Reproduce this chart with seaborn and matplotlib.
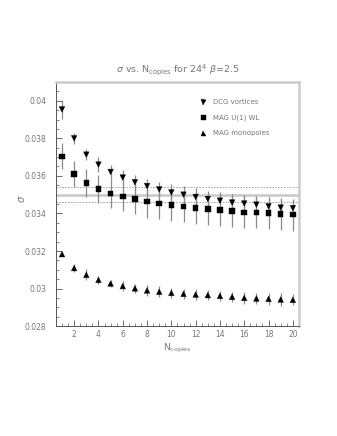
import numpy as np
import pandas as pd
import seaborn as sns
import matplotlib
matplotlib.use("Agg")
import matplotlib.pyplot as plt
from matplotlib.ticker import MultipleLocator, FixedLocator

n_copies = list(range(1, 21))

vortices = [0.03954, 0.03800, 0.03713, 0.03660, 0.03621, 0.03591, 0.03566, 0.03546,
            0.03528, 0.03512, 0.03500, 0.03488, 0.03477, 0.03468, 0.03458, 0.03453,
            0.03447, 0.03438, 0.03431, 0.03428]
vortices_err = [0.00050, 0.00030, 0.00030, 0.00040, 0.00035, 0.00040, 0.00040, 0.00040,
                0.00040, 0.00045, 0.00045, 0.00045, 0.00045, 0.00045, 0.00045, 0.00045,
                0.00045, 0.00045, 0.00045, 0.00045]

u1wl = [0.03704, 0.03609, 0.03561, 0.03530, 0.03506, 0.03490, 0.03476, 0.03463,
        0.03454, 0.03444, 0.03437, 0.03428, 0.03423, 0.03417, 0.03412, 0.03406,
        0.03405, 0.03401, 0.03397, 0.03394]
u1wl_err = [0.00070, 0.00070, 0.00073, 0.00073, 0.00075, 0.00078, 0.00080, 0.00085,
            0.00085, 0.00085, 0.00085, 0.00085, 0.00085, 0.00085, 0.00085, 0.00085,
            0.00085, 0.00085, 0.00085, 0.00085]

monopoles = [0.03183, 0.03109, 0.03073, 0.03046, 0.03027, 0.03013, 0.03001, 0.02990,
             0.02983, 0.02977, 0.02972, 0.02968, 0.02965, 0.02961, 0.02956, 0.02950,
             0.02947, 0.02945, 0.02942, 0.02940]
monopoles_err = [0.00010, 0.00020, 0.00030, 0.00022, 0.00020, 0.00027, 0.00025, 0.00030,
                 0.00028, 0.00028, 0.00028, 0.00028, 0.00028, 0.00028, 0.00025, 0.00030,
                 0.00028, 0.00030, 0.00035, 0.00030]

series_names = ["DCG vortices", "MAG U(1) WL", "MAG monopoles"]
band_center = 0.0350
band_halfwidth = 0.0004

sns.set_theme(style="white")
plt.rcParams['font.family'] = ['DejaVu Sans']

df = pd.DataFrame({
    "N": n_copies * 3,
    "sigma": vortices + u1wl + monopoles,
    "err": vortices_err + u1wl_err + monopoles_err,
    "series": [series_names[0]] * 20 + [series_names[1]] * 20 + [series_names[2]] * 20,
})

fig = plt.figure(figsize=(3.37, 4.36), dpi=100)
ax = fig.add_axes([0.166, 0.252, 0.721, 0.560])

# reference band
ax.axhline(band_center, color="#cccccc", lw=2.0, zorder=1)
ax.axhline(band_center + band_halfwidth, color="#999999", lw=0.6, ls=(0, (2, 1.5)), zorder=1)
ax.axhline(band_center - band_halfwidth, color="#999999", lw=0.6, ls=(0, (2, 1.5)), zorder=1)

for name in series_names:
    sub = df[df["series"] == name]
    ax.errorbar(sub["N"], sub["sigma"], yerr=sub["err"], fmt="none",
                ecolor="#8a8a8a", elinewidth=0.9, capsize=0, zorder=2)

sns.scatterplot(data=df, x="N", y="sigma", style="series", hue="series",
                palette={s: "black" for s in series_names},
                markers={series_names[0]: "v", series_names[1]: "s", series_names[2]: "^"},
                s=16, edgecolor="black", linewidth=0.3, ax=ax, zorder=3)

ax.set_xlim(0.5, 20.5)
ax.set_ylim(0.028, 0.041)
ax.xaxis.set_major_locator(FixedLocator(list(range(2, 21, 2))))
ax.xaxis.set_minor_locator(MultipleLocator(0.5))
ax.yaxis.set_minor_locator(MultipleLocator(0.0005))
ax.set_yticks([0.028, 0.03, 0.032, 0.034, 0.036, 0.038, 0.04])
ax.set_yticklabels(["0.028", "0.03", "0.032", "0.034", "0.036", "0.038", "0.04"])
ax.tick_params(axis="both", which="major", direction="in", length=4, width=0.6,
               color="#555555", labelsize=5.5, labelcolor="#777777")
ax.tick_params(axis="both", which="minor", direction="in", length=2, width=0.5,
               color="#555555")
ax.tick_params(axis="x", pad=3)
ax.tick_params(axis="y", pad=7)
ax.tick_params(left=True, bottom=True, which="both")

for side in ["left", "bottom"]:
    ax.spines[side].set_color("#555555")
    ax.spines[side].set_linewidth(0.7)
for side in ["top", "right"]:
    ax.spines[side].set_color("#cccccc")
    ax.spines[side].set_linewidth(1.8)

ax.set_xlabel(r"N$_{\rm copies}$", fontsize=6.5, color="#777777", labelpad=2)
ax.set_ylabel(r"$\sigma$", fontsize=7, color="#777777", rotation=90)
ax.yaxis.set_label_coords(-0.12, 0.52)
ax.set_title(r"$\sigma$ vs. N$_{\rm copies}$ for 24$^4$ $\beta$=2.5",
             fontsize=6.8, color="#777777", pad=7)

handles, labels = ax.get_legend_handles_labels()
leg = ax.legend(handles, labels, loc="upper left", bbox_to_anchor=(0.565, 0.955),
                frameon=False, fontsize=5, labelcolor="#777777",
                handletextpad=0.9, labelspacing=1.35, markerscale=0.9, handlelength=1.0)

fig.savefig("out.png", dpi=100, facecolor="white")
